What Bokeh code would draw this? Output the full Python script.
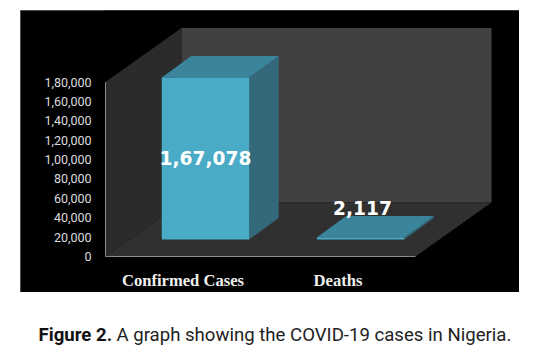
from bokeh.plotting import figure
from bokeh.layouts import column
from bokeh.models import Range1d, FixedTicker
from bokeh.core.properties import value
from bokeh.embed import file_html
from bokeh.resources import INLINE

categories = ["Confirmed Cases", "Deaths"]
cases = [167078, 2117]
case_labels = ["1,67,078", "2,117"]
y_ticks = [0, 20000, 40000, 60000, 80000, 100000, 120000, 140000, 160000, 180000]
y_tick_labels = ["0", "20,000", "40,000", "60,000", "80,000", "1,00,000",
                 "1,20,000", "1,40,000", "1,60,000", "1,80,000"]
caption_bold = "Figure 2."
caption_rest = "A graph showing the COVID-19 cases in Nigeria."

Y_MAX = 180000
PX_X = 155.0           # pixels per category
PX_Y = 174.5 / Y_MAX   # pixels per value unit
FRAME_W, FRAME_H = 415, 247
ux = lambda px: px / PX_X
uy = lambda px: px / PX_Y

p = figure(width=499, height=282, output_backend="svg", toolbar_location=None,
           x_range=Range1d(-0.5 - ux(1), -0.5 - ux(1) + ux(FRAME_W)),
           y_range=Range1d(-uy(1), -uy(1) + uy(FRAME_H)),
           min_border_left=84, min_border_right=0, min_border_top=0, min_border_bottom=34,
           background_fill_color="black", border_fill_color="black",
           outline_line_color=None, margin=(10, 0, 0, 20))
p.styles = {"outline": "1px solid #6a6a6a", "outline-offset": "-1px", "background-color": "black"}
p.grid.visible = False
p.xaxis[0].axis_line_color = None

# 3D walls and floor
DX, DY = ux(76), uy(54)
L, R = -0.5, 1.5
p.patch([L, L + DX, L + DX, L], [Y_MAX, Y_MAX + DY, DY, 0], fill_color="#2b2b2b", line_color=None)
p.quad(left=L + DX, right=R + DX, bottom=DY, top=Y_MAX + DY, fill_color="#414141", line_color=None)
p.patch([L, R, R + DX, L + DX], [0, 0, DY, DY], fill_color="#303030", line_color=None)

# Axis lines, bounded like the original's front edges
p.line([L, L, R], [Y_MAX, 0, 0], line_color="#8a8a8a", line_width=1)

# 3D bars
SHIFT_X, SHIFT_Y = ux(22.5), uy(17)
BAR_W = ux(87.5)
BX, BY = ux(29.5), uy(21.5)
for i, v in enumerate(cases):
    x0 = i + SHIFT_X - BAR_W / 2
    x1 = x0 + BAR_W
    y0, y1 = SHIFT_Y, SHIFT_Y + v
    p.patch([x0 - ux(3), x1 + BX, x1 + BX + ux(3), x0 + BX], [y0 - uy(1), y0 + BY - uy(1), y0 + BY + uy(1), y0 + BY + uy(1)],
            fill_color="#262626", line_color=None)
    p.patch([x1, x1 + BX, x1 + BX, x1], [y0, y0 + BY, y1 + BY, y1], fill_color="#33697b", line_color=None)
    p.patch([x0, x1, x1 + BX, x0 + BX], [y1, y1, y1 + BY, y1 + BY], fill_color="#3a859c", line_color=None)
    p.quad(left=x0, right=x1, bottom=y0, top=y1, fill_color="#4aabc7", line_color=None)

# Value labels
label_x = [i + SHIFT_X for i in range(len(cases))]
label_y = [SHIFT_Y + cases[0] / 2, SHIFT_Y + cases[1]]
p.text(label_x, label_y, text=case_labels, text_color="white",
       text_font=value("DejaVu Sans"), text_font_style="bold", text_font_size="18.6px",
       text_align="center", text_baseline="middle",
       x_offset=[0, 2], y_offset=[-1, -29])

# Axes
ya = p.yaxis[0]
ya.ticker = FixedTicker(ticks=y_ticks)
ya.major_label_overrides = dict(zip(y_ticks, y_tick_labels))
ya.axis_line_color = None
ya.major_tick_line_color = None
ya.minor_tick_line_color = None
ya.major_label_standoff = 7
ya.major_label_text_color = "#dcdcdc"
ya.major_label_text_font = "Roboto"
ya.major_label_text_font_size = "12.5px"

xa = p.xaxis[0]
xa.ticker = FixedTicker(ticks=[0, 1])
xa.major_label_overrides = dict(enumerate(categories))
xa.axis_line_color = None
xa.major_tick_line_color = None
xa.minor_tick_line_color = None
xa.major_label_standoff = 7
xa.major_label_text_color = "#f0f0f0"
xa.major_label_text_font = "Liberation Serif"
xa.major_label_text_font_style = "bold"
xa.major_label_text_font_size = "16.6px"

# Caption
c = figure(width=558, height=64, output_backend="svg", toolbar_location=None,
           x_range=Range1d(0, 558), y_range=Range1d(0, 64),
           x_axis_type=None, y_axis_type=None,
           min_border=0, outline_line_color=None, margin=(0, 0, 0, 0))
c.grid.visible = False
c.text([38], [22], text=[caption_bold], text_color="#111111", text_font=value("Roboto"),
       text_font_style="bold", text_font_size="18.6px", text_baseline="middle")
c.text([116], [22], text=[caption_rest], text_color="#222222", text_font=value("Roboto"),
       text_font_size="18.6px", text_baseline="middle")

layout = column(column(p), column(c), spacing=0)
open("out.html", "w").write(file_html(layout, INLINE))
